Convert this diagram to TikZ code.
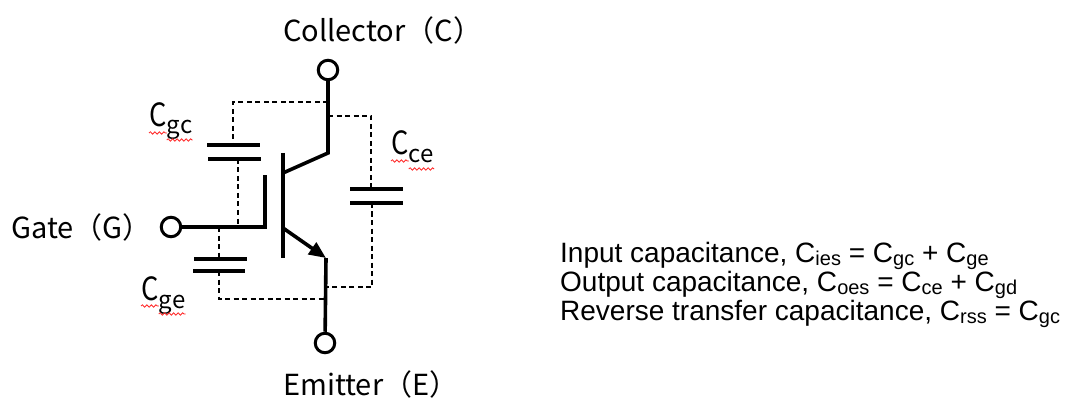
\documentclass[tikz,border=0pt]{standalone}
\usepackage{fontspec}
\setmainfont{Liberation Sans}
\newfontfamily\jpfont{Noto Sans CJK JP}
\usetikzlibrary{arrows.meta}
\usetikzlibrary{decorations.pathmorphing}
\newcommand{\lowsub}[1]{\raisebox{-3.5pt}{\fontsize{20}{20}\selectfont #1}}

\begin{document}
\begin{tikzpicture}[x=1pt,y=-1pt,
    wire/.style={line width=3.6pt},
    plate/.style={line width=3.6pt},
    stray/.style={line width=1.2pt, dash pattern=on 5pt off 3.5pt},
    terminal/.style={circle, draw, line width=3pt, minimum size=19.5pt, inner sep=0pt, fill=white},
    pinlabel/.style={font=\jpfont\fontsize{29}{32}\selectfont, inner sep=0pt, anchor=base west},
    bigC/.style={font=\jpfont\fontsize{32}{34}\selectfont, inner sep=0pt, anchor=base west},
    smallsub/.style={font=\jpfont\fontsize{24}{26}\selectfont, inner sep=0pt, anchor=base west},
    squiggle/.style={red!85!white, line width=0.8pt, decorate, decoration={snake, amplitude=1.2pt, segment length=4.5pt}}]
            \useasboundingbox (0,0) rectangle (1073,398);

            % terminals
            \node[terminal] (tC) at (328,70) {};
            \node[terminal] (tG) at (171,227) {};
            \node[terminal] (tE) at (325,343) {};
            \node[pinlabel] (lC) at (283,42) {Collector（C）};
            \node[pinlabel] (lG) at (11,238) {Gate（G）};
            \node[pinlabel] (lE) at (283,395) {Emitter（E）};

            % IGBT symbol
            \coordinate (cTop) at (328,153);
            \coordinate (cBase) at (283,173);
            \coordinate (barTop) at (283,153);
            \coordinate (barBot) at (283,258);
            \coordinate (gCorner) at (265,227);
            \coordinate (gTop) at (265,175);
            \coordinate (eBase) at (283,228);
            \coordinate (eTip) at (326,258);
            \draw[wire] (tC) -- (cTop) -- (cBase);
            \draw[wire] (barTop) -- (barBot);
            \draw[wire] (tG) -- (gCorner) -- (gTop);
            \draw[wire, -{Triangle[length=17pt,width=14pt]}] (eBase) -- (eTip);
            \draw[wire] (eTip) -- (tE);

            % gate-collector capacitance
            \coordinate (gcTap) at (328,102);
            \coordinate (gcCorner) at (233,102);
            \coordinate (gcA) at (233,145);
            \coordinate (gcB) at (238,159);
            \coordinate (gcGate) at (238,227);
            \draw[stray] (gcTap) -- (gcCorner) -- (gcA);
            \draw[plate] (207,145) -- (260,145);
            \draw[plate] (208,159) -- (261,159);
            \draw[stray] (gcB) -- (gcGate);

            % collector-emitter capacitance
            \coordinate (ceTap) at (328,116);
            \coordinate (ceCorner) at (371,116);
            \coordinate (ceA) at (371,189);
            \coordinate (ceB) at (372,203);
            \coordinate (ceCorner2) at (372,287);
            \coordinate (ceEm) at (325,287);
            \draw[stray] (ceTap) -- (ceCorner) -- (ceA);
            \draw[plate] (350,189) -- (403,189);
            \draw[plate] (350,203) -- (403,203);
            \draw[stray] (ceB) -- (ceCorner2) -- (ceEm);

            % gate-emitter capacitance
            \coordinate (geTap) at (219,227);
            \coordinate (geA) at (219,259);
            \coordinate (geB) at (219,271);
            \coordinate (geCorner) at (219,299);
            \coordinate (geEm) at (325,299);
            \draw[stray] (geTap) -- (geA);
            \draw[plate] (194,259) -- (247,259);
            \draw[plate] (193,271) -- (245,271);
            \draw[stray] (geB) -- (geCorner) -- (geEm);

            % capacitance names
            \node[bigC] (gcC) at (149,127) {\scalebox{0.85}[1]{C}};
            \node[smallsub] (gcS) at ([yshift=-7pt]gcC.base east) {gc};
            \node[bigC] (ceC) at (391,155) {\scalebox{0.85}[1]{C}};
            \node[smallsub] (ceS) at ([yshift=-8pt]ceC.base east) {ce};
            \node[bigC] (geC) at (141,300) {\scalebox{0.85}[1]{C}};
            \node[smallsub] (geS) at ([yshift=-8pt]geC.base east) {ge};
            \foreach \n in {gcC,gcS,ceC,ceS,geC,geS}
              \draw[squiggle] ([yshift=-6pt]\n.base west) -- ([yshift=-6pt]\n.base east);

            % formulas
            \node[anchor=base west, inner sep=0pt, align=left, font=\fontsize{28}{29}\selectfont] (formulas) at (560,320)
              {Input capacitance, C\lowsub{ies} = C\lowsub{gc} + C\lowsub{ge}\\
               Output capacitance, C\lowsub{oes} = C\lowsub{ce} + C\lowsub{gd}\\
               Reverse transfer capacitance, C\lowsub{rss} = C\lowsub{gc}};
\end{tikzpicture}
\end{document}
